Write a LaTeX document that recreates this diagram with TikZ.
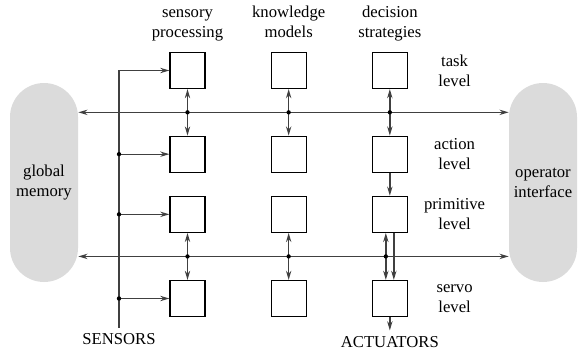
\documentclass[tikz,border=0pt]{standalone}
\usepackage{fontspec}
\setmainfont{Liberation Serif}
\usepackage{tikz}
\usetikzlibrary{positioning, arrows.meta, calc}
\definecolor{memgray}{gray}{0.86}
\definecolor{linkgray}{gray}{0.25}

\begin{document}
\begin{tikzpicture}[x=0.6pt, y=-0.6pt,
	        box/.style={draw, rectangle, minimum width=21pt, minimum height=21.6pt, inner sep=0pt, line width=0.7pt},
	        memory/.style={fill=memgray, rounded corners=20.4pt, minimum width=40.8pt, minimum height=119.4pt, align=center, inner sep=0pt},
	        head/.style={align=center, text depth=2.2pt},
	        lvl/.style={align=center},
	        link/.style={draw=linkgray, line width=0.8pt},
	        node distance=39pt, >={Stealth[length=5.5pt, width=3.2pt]}]
	        
	        \useasboundingbox (0,0) rectangle (578,349);
	        
	        % Caixas
	        \node (sp-task) [box] at (187.5,70.5) {};
	        \node (km-task) [box, right=of sp-task] {};
	        \node (ds-task) [box, right=of km-task] {};
	        \node (sp-action) [box, below=27.9pt of sp-task] {};
	        \node (km-action) [box, right=of sp-action] {};
	        \node (ds-action) [box, right=of km-action] {};
	        \node (sp-prim) [box, below=13.8pt of sp-action] {};
	        \node (km-prim) [box, right=of sp-prim] {};
	        \node (ds-prim) [box, right=of km-prim] {};
	        \node (sp-servo) [box, below=28.2pt of sp-prim] {};
	        \node (km-servo) [box, right=of sp-servo] {};
	        \node (ds-servo) [box, right=of km-servo] {};
	        
	        % Titulos
	        \node (sp-head) [head, above=3pt of sp-task] {sensory\\processing};
	        \node (km-head) [head, above=3pt of km-task] {knowledge\\models};
	        \node (ds-head) [head, above=3pt of ds-task] {decision\\strategies};
	        \node (task-lvl) [lvl, right=28pt of ds-task, anchor=center] {task\\level};
	        \node (action-lvl) [lvl, right=28pt of ds-action, anchor=center] {action\\level};
	        \node (prim-lvl) [lvl, right=28pt of ds-prim, anchor=center] {primitive\\level};
	        \node (servo-lvl) [lvl, right=28pt of ds-servo, anchor=center] {servo\\level};
	        
	        % Memoria e interface
	        \node (gmem) [memory] at (44,182.5) {global\\memory};
	        \node (opif) [memory] at (543,182.5) {operator\\interface};
	        
	        % Entrada e saida
	        \node (sensors) at (119,339) {SENSORS};
	        \node (actuators) [below=8pt of ds-servo] {ACTUATORS};
	        
	        \coordinate (busA) at ($(sp-task.south)!0.5!(sp-action.north)$);
	        \coordinate (busB) at ($(sp-prim.south)!0.5!(sp-servo.north)$);
	        
	        % Barramentos
	        \draw[link, <->] (gmem.east |- busA) -- (opif.west |- busA);
	        \draw[link, <->] (gmem.east |- busB) -- (opif.west |- busB);
	        
	        % Conexoes verticais
	        \draw[link, <->] (sp-task) -- (sp-action);
	        \draw[link, <->] (km-task) -- (km-action);
	        \draw[link, <->] (ds-task) -- (ds-action);
	        \draw[link, <->] (sp-prim) -- (sp-servo);
	        \draw[link, <->] (km-prim) -- (km-servo);
	        \draw[link, <->] ([xshift=-2.4pt]ds-prim.south) -- ([xshift=-2.4pt]ds-servo.north);
	        \draw[link, ->] ([xshift=2.4pt]ds-prim.south) -- ([xshift=2.4pt]ds-servo.north);
	        \draw[link, ->] (ds-action) -- (ds-prim);
	        \draw[link, ->] (ds-servo) -- (actuators);
	        
	        \fill (sp-task |- busA) circle (1.3pt);
	        \fill (km-task |- busA) circle (1.3pt);
	        \fill (ds-task |- busA) circle (1.3pt);
	        \fill (sp-prim |- busB) circle (1.3pt);
	        \fill (km-prim |- busB) circle (1.3pt);
	        \fill ([xshift=-2.4pt]ds-prim.south |- busB) circle (1.3pt);
	        
	        % Sensores
	        \draw[link, ->] (sensors) |- (sp-task);
	        \draw[link, ->] (sensors |- sp-action) -- (sp-action);
	        \draw[link, ->] (sensors |- sp-prim) -- (sp-prim);
	        \draw[link, ->] (sensors |- sp-servo) -- (sp-servo);
	        \fill (sensors |- sp-action) circle (1.3pt);
	        \fill (sensors |- sp-prim) circle (1.3pt);
	        \fill (sensors |- sp-servo) circle (1.3pt);
	    \end{tikzpicture}
\end{document}
